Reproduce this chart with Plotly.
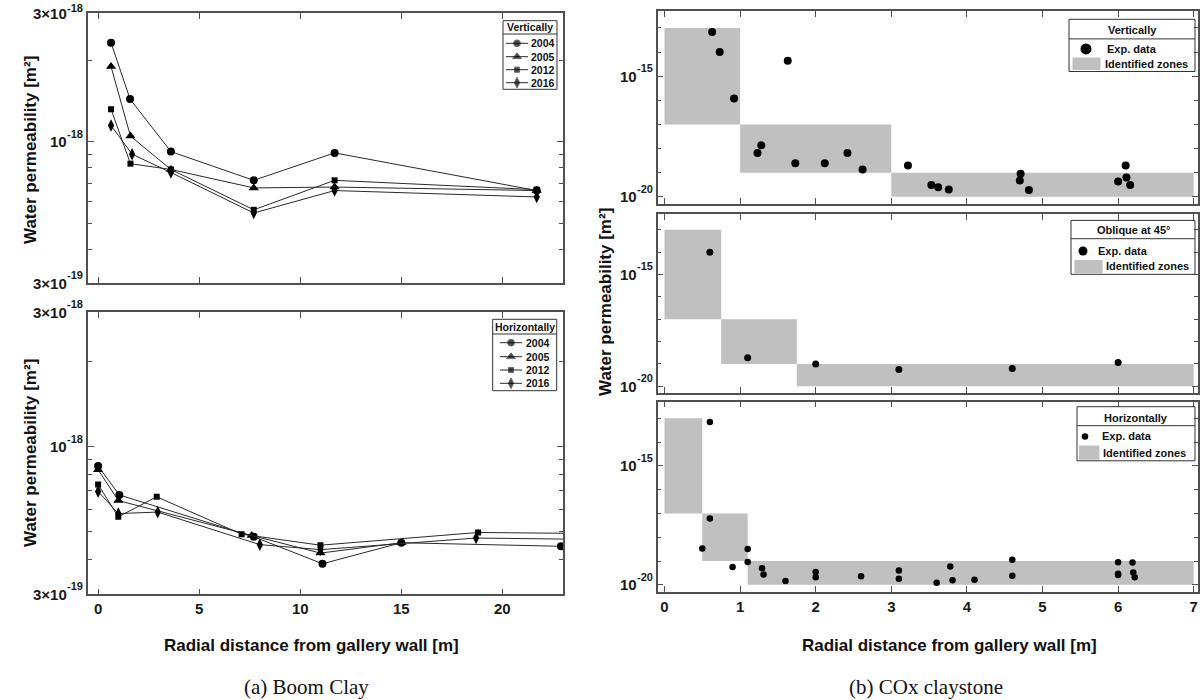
import math
import plotly.graph_objects as go

# ---------------- Boom Clay (a) ----------------
bc_years = ["2004", "2005", "2012", "2016"]
bc_symbols = ["circle", "triangle-up", "square", "diamond-tall"]
bc_sizes = [8, 9, 6, 9]

# Vertically
bcv_x = {
    "2004": [0.64, 1.58, 3.6, 7.7, 11.7, 21.7],
    "2005": [0.64, 1.6, 3.6, 7.7, 11.7, 21.7],
    "2012": [0.64, 1.6, 3.6, 7.7, 11.7, 21.7],
    "2016": [0.64, 1.68, 3.6, 7.7, 11.7, 21.7],
}
bcv_k = {
    "2004": [2.33e-18, 1.44e-18, 9.2e-19, 7.2e-19, 9.1e-19, 6.6e-19],
    "2005": [1.90e-18, 1.05e-18, 7.9e-19, 6.75e-19, 6.8e-19, 6.6e-19],
    "2012": [1.32e-18, 8.3e-19, 7.9e-19, 5.6e-19, 7.2e-19, 6.65e-19],
    "2016": [1.15e-18, 9.0e-19, 7.7e-19, 5.45e-19, 6.6e-19, 6.25e-19],
}
# Horizontally
bch_x = {
    "2004": [0.0, 1.05, 7.7, 11.1, 15.0, 22.9],
    "2005": [0.0, 1.0, 7.6, 11.0, 15.0],
    "2012": [0.0, 1.0, 2.9, 7.1, 11.0, 18.8, 24.0],
    "2016": [0.0, 1.0, 2.95, 8.0, 11.0, 18.7, 24.0],
}
bch_k = {
    "2004": [8.55e-19, 6.75e-19, 4.8e-19, 3.85e-19, 4.57e-19, 4.44e-19],
    "2005": [8.3e-19, 6.45e-19, 4.85e-19, 4.2e-19, 4.57e-19],
    "2012": [7.35e-19, 5.65e-19, 6.65e-19, 4.9e-19, 4.48e-19, 4.97e-19, 4.93e-19],
    "2016": [6.95e-19, 5.8e-19, 5.87e-19, 4.5e-19, 4.32e-19, 4.75e-19, 4.7e-19],
}
bc_xticks = [0, 5, 10, 15, 20]
bc_yticks = [3e-19, 1e-18, 3e-18]
bc_ytick_base = ["3\u00d710", "10", "3\u00d710"]
bc_ytick_exp = ["-19", "-18", "-18"]
bc_yminor = [4e-19, 5e-19, 6e-19, 7e-19, 8e-19, 9e-19, 2e-18]

# ---------------- COx claystone (b) ----------------
coxv_x = [0.63, 0.73, 0.92, 1.23, 1.28, 1.63, 1.73, 2.12, 2.42, 2.62, 3.22, 3.53, 3.62, 3.76,
          4.71, 4.70, 4.82, 6.0, 6.1, 6.11, 6.16]
coxv_k = [6.8e-14, 1.0e-14, 1.17e-16, 6.5e-19, 1.35e-18, 4.3e-15, 2.45e-19, 2.45e-19, 6.5e-19,
          1.35e-19, 2.0e-19, 3.1e-20, 2.5e-20, 2.0e-20, 8.9e-20, 4.7e-20, 1.9e-20, 4.3e-20,
          2.0e-19, 6.3e-20, 3.1e-20]
coxo_x = [0.6, 1.1, 2.0, 3.1, 4.6, 6.0]
coxo_k = [9.8e-15, 1.9e-19, 1.0e-19, 5.6e-20, 6.3e-20, 1.17e-19]
coxh_x = [0.60, 0.60, 0.50, 0.90, 1.10, 1.10, 1.29, 1.31, 1.60, 2.0, 2.0, 2.6, 3.1, 3.1, 3.6,
          3.78, 3.81, 4.1, 4.6, 4.6, 6.0, 6.0, 6.0, 6.19, 6.2, 6.22]
coxh_k = [7.1e-14, 6.2e-18, 3.4e-19, 5.6e-20, 3.2e-19, 9.1e-20, 5.0e-20, 2.7e-20, 1.45e-20,
          3.5e-20, 2.1e-20, 2.3e-20, 4.0e-20, 1.8e-20, 1.23e-20, 5.9e-20, 1.55e-20, 1.66e-20,
          1.15e-19, 2.4e-20, 8.9e-20, 2.95e-20, 2.6e-20, 8.7e-20, 3.3e-20, 2.1e-20]

zone_lo = [1e-17, 1e-19, 1e-20]
zone_hi = [1e-13, 1e-17, 1e-19]
zonev_x0, zonev_x1 = [0, 1, 3], [1, 3, 7]
zoneo_x0, zoneo_x1 = [0, 0.75, 1.75], [0.75, 1.75, 7]
zoneh_x0, zoneh_x1 = [0, 0.5, 1.1], [0.5, 1.1, 7]

cox_xticks = [0, 1, 2, 3, 4, 5, 6, 7]
cox_yticks = [1e-20, 1e-15]
cox_ytick_base = ["10", "10"]
cox_ytick_exp = ["-20", "-15"]
cox_yminor = [1e-19, 1e-18, 1e-17, 1e-16, 1e-14, 1e-13]

# ---------------- figure ----------------
W, H = 1200, 700
FONT = "Liberation Sans"
AX = "#505050"
GRAY = "#c0c0c0"
fig = go.Figure()


def px_x(p):
    return p / W


def px_y(p):
    return 1 - p / H


for yr, sym, sz in zip(bc_years, bc_symbols, bc_sizes):
    fig.add_trace(go.Scatter(x=bcv_x[yr], y=bcv_k[yr], mode="lines+markers", name=yr,
                             line=dict(color="#2a2a2a", width=1),
                             marker=dict(symbol=sym, size=sz, color="black"),
                             xaxis="x", yaxis="y", showlegend=False))
for yr, sym, sz in zip(bc_years, bc_symbols, bc_sizes):
    fig.add_trace(go.Scatter(x=bch_x[yr], y=bch_k[yr], mode="lines+markers", name=yr,
                             line=dict(color="#2a2a2a", width=1),
                             marker=dict(symbol=sym, size=sz, color="black"),
                             xaxis="x2", yaxis="y2", showlegend=False))


def add_zones(x0, x1, xa, ya):
    xs, ys = [], []
    for a, b, lo, hi in zip(x0, x1, zone_lo, zone_hi):
        xs += [a, b, b, a, a, None]
        ys += [lo, lo, hi, hi, lo, None]
    fig.add_trace(go.Scatter(x=xs, y=ys, mode="lines", fill="toself", fillcolor=GRAY,
                             line=dict(width=0, color=GRAY), name="Identified zones",
                             xaxis=xa, yaxis=ya, showlegend=False, hoverinfo="skip"))


def add_points(x, k, xa, ya, size):
    fig.add_trace(go.Scatter(x=x, y=k, mode="markers", name="Exp. data",
                             marker=dict(symbol="circle", size=size, color="black"),
                             xaxis=xa, yaxis=ya, showlegend=False))


add_zones(zonev_x0, zonev_x1, "x3", "y3")
add_points(coxv_x, coxv_k, "x3", "y3", 8)
add_zones(zoneo_x0, zoneo_x1, "x4", "y4")
add_points(coxo_x, coxo_k, "x4", "y4", 7)
add_zones(zoneh_x0, zoneh_x1, "x5", "y5")
add_points(coxh_x, coxh_k, "x5", "y5", 6.5)

tickfont = dict(family=FONT, size=15, color="#1a1a1a", weight="bold")
common = dict(showgrid=False, zeroline=False, showline=True, linecolor=AX, linewidth=1.5,
              ticks="inside", ticklen=6, tickcolor=AX, tickwidth=1, mirror="ticks",
              tickfont=tickfont)

# pixel boxes: (left, right, top, bottom)
L_X = (88, 563)
R_X = (657.7, 1197.5)
panels = {
    "1": (L_X, (13, 283)),
    "2": (L_X, (312.3, 594.3)),
    "3": (R_X, (11, 204)),
    "4": (R_X, (214, 393)),
    "5": (R_X, (401.7, 592)),
}
layout = {}
shapes = []
annotations = []

for k, ((xl, xr), (yt, yb)) in panels.items():
    xn = "xaxis" if k == "1" else "xaxis" + k
    yn = "yaxis" if k == "1" else "yaxis" + k
    xid = "x" if k == "1" else "x" + k
    yid = "y" if k == "1" else "y" + k
    left = k in ("1", "2")
    layout[xn] = dict(common, domain=[px_x(xl), px_x(xr)], anchor=yid,
                      range=[-0.5, 23] if left else [-0.09, 7.05],
                      tickmode="array", tickvals=bc_xticks if left else cox_xticks,
                      showticklabels=(k in ("2", "5")))
    yt_vals = bc_yticks if left else cox_yticks
    yrange = [math.log10(3e-19), math.log10(3e-18)] if left else [-20.3, -12.3]
    layout[yn] = dict(common, domain=[px_y(yb), px_y(yt)], anchor=xid, type="log",
                      range=yrange, tickmode="array", tickvals=yt_vals, showticklabels=False,
                      minor=dict(tickmode="array", tickvals=bc_yminor if left else cox_yminor,
                                 ticks="inside", ticklen=4, tickcolor=AX, tickwidth=1))
    # y tick labels as base + exponent, positioned on the axis' own (log) scale
    bases = bc_ytick_base if left else cox_ytick_base
    exps = bc_ytick_exp if left else cox_ytick_exp
    for v, b, e in zip(yt_vals, bases, exps):
        lv = math.log10(v)
        # pixel position of this tick (for keeping the exponent inside the page)
        tick_px = yt + (yrange[1] - lv) / (yrange[1] - yrange[0]) * (yb - yt)
        shift = min(8, tick_px - 8)
        annotations.append(dict(text=b, xref="paper", yref=yid, x=px_x(xl - 20),
                                y=lv, xanchor="right", yanchor="middle",
                                showarrow=False, borderpad=0,
                                font=dict(family=FONT, size=15, color="#1a1a1a",
                                          weight="bold")))
        annotations.append(dict(text=e, xref="paper", yref=yid, x=px_x(xl - 4),
                                y=lv, xanchor="right", yanchor="middle",
                                yshift=shift, showarrow=False, borderpad=0,
                                font=dict(family=FONT, size=11, color="#1a1a1a",
                                          weight="bold")))

# overlay pixel axes for hand-drawn legend swatches
layout["xaxis6"] = dict(domain=[0, 1], range=[0, W], visible=False, anchor="y6", fixedrange=True)
layout["yaxis6"] = dict(domain=[0, 1], range=[H, 0], visible=False, anchor="x6", fixedrange=True)


def txt(text, x, y, size, anchor="left", family=FONT, bold=True, angle=0):
    f = dict(family=family, size=size, color="#111")
    if bold:
        f["weight"] = "bold"
    annotations.append(dict(text=text, x=px_x(x), y=px_y(y), xref="paper", yref="paper",
                            showarrow=False, xanchor=anchor, yanchor="middle",
                            textangle=angle, font=f))


def prect(x0, y0, x1, y1, **kw):
    shapes.append(dict(type="rect", xref="paper", yref="paper", x0=px_x(x0), x1=px_x(x1),
                       y0=px_y(y1), y1=px_y(y0), **kw))


def pline(x0, y0, x1, y1):
    shapes.append(dict(type="line", xref="paper", yref="paper", x0=px_x(x0), x1=px_x(x1),
                       y0=px_y(y0), y1=px_y(y1), line=dict(color="#333", width=1)))


# --- left legends (year series) ---
def year_legend(box, header, hy, sep, item_y, lx0, lx1, tx):
    x0, y0, x1, y1 = box
    prect(x0, y0, x1, y1, line=dict(color="#333", width=1), fillcolor="rgba(0,0,0,0)")
    pline(x0, sep, x1, sep)
    txt(header, (x0 + x1) / 2, hy, 10.5, anchor="center")
    for yr, sym, sz, iy in zip(bc_years, bc_symbols, bc_sizes, item_y):
        fig.add_trace(go.Scatter(x=[lx0, (lx0 + lx1) / 2, lx1], y=[iy, iy, iy],
                                 mode="lines+markers", xaxis="x6", yaxis="y6",
                                 line=dict(color="#2a2a2a", width=1),
                                 marker=dict(symbol=sym, size=[0, sz * 0.85, 0], color="black"),
                                 showlegend=False, hoverinfo="skip", cliponaxis=False))
        txt(yr, tx, iy, 10.5)


year_legend((503, 20.7, 557, 89.3), "Vertically", 27.5, 34, [43.3, 56.7, 69.7, 82.7],
            506, 528, 529)
year_legend((492.7, 319.3, 556.7, 390.7), "Horizontally", 327, 334,
            [342.7, 356.7, 370, 383.3], 500, 522, 524)


# --- right legends ---
def cox_legend(box, header, hy, sep, dot_xy, dot_size, text1_x, sw, text2_x, text2_y):
    x0, y0, x1, y1 = box
    prect(x0, y0, x1, y1, line=dict(color="#333", width=1), fillcolor="rgba(0,0,0,0)")
    pline(x0, sep, x1, sep)
    txt(header, (x0 + x1) / 2, hy, 11, anchor="center")
    fig.add_trace(go.Scatter(x=[dot_xy[0]], y=[dot_xy[1]], mode="markers", xaxis="x6",
                             yaxis="y6", marker=dict(size=dot_size, color="black"),
                             showlegend=False, hoverinfo="skip", cliponaxis=False))
    txt("Exp. data", text1_x, dot_xy[1], 11)
    prect(sw[0], sw[1], sw[2], sw[3], line=dict(width=0), fillcolor=GRAY)
    txt("Identified zones", text2_x, text2_y, 11)


cox_legend((1069, 19.3, 1195, 71.5), "Vertically", 29.5, 38.9, (1086, 48.9), 11, 1105,
           (1072.5, 57.5, 1100.5, 70), 1103, 64)
cox_legend((1071, 220.4, 1195, 274.3), "Oblique at 45\u00b0", 230, 238.7, (1083, 251), 9, 1096,
           (1074.4, 260, 1102.6, 273.3), 1104, 266)
cox_legend((1077, 406.7, 1195, 460.8), "Horizontally", 417.5, 425.7, (1085, 436.4), 6.5, 1100,
           (1079, 445.5, 1099.5, 459.8), 1101, 452.5)

# --- axis titles and captions ---
ytitle = "Water permeability [m\u00b2]"
xtitle = "Radial distance from gallery wall [m]"
txt(ytitle, 30, 150, 17, anchor="center", angle=-90)
txt(ytitle, 30, 453, 17, anchor="center", angle=-90)
txt(ytitle, 605, 302, 17, anchor="center", angle=-90)
txt(xtitle, 311, 645, 17, anchor="center")
txt(xtitle, 949, 645, 17, anchor="center")
txt("(a) Boom Clay", 306, 687, 21, anchor="center", family="Liberation Serif", bold=False)
txt("(b) COx claystone", 926, 687, 21, anchor="center", family="Liberation Serif", bold=False)

fig.update_layout(width=W, height=H, margin=dict(l=0, r=0, t=0, b=0),
                  paper_bgcolor="white", plot_bgcolor="rgba(0,0,0,0)",
                  showlegend=False, shapes=shapes, annotations=annotations, **layout)

fig.write_html("out.html", config={"displayModeBar": False},
               post_script="document.body.style.margin='0';document.body.style.overflow='hidden';")
